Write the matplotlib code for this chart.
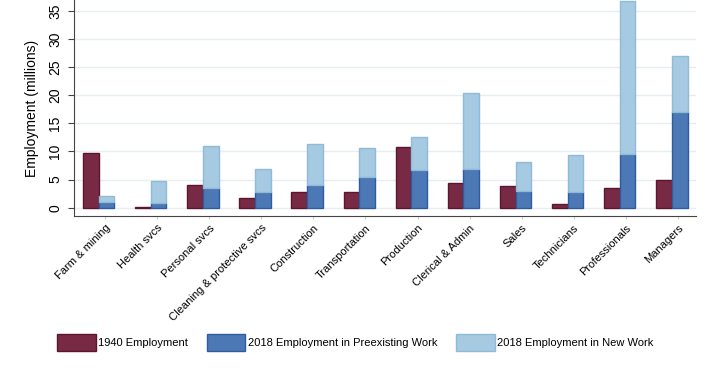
import matplotlib
matplotlib.use("Agg")
import matplotlib.pyplot as plt
import numpy as np

plt.rcParams['font.family'] = ['Liberation Sans', 'DejaVu Sans']

# occupation groups, values in millions
categories = ['Farm & mining', 'Health svcs', 'Personal svcs',
              'Cleaning & protective svcs', 'Construction', 'Transportation',
              'Production', 'Clerical & Admin', 'Sales', 'Technicians',
              'Professionals', 'Managers']
emp_1940 = [9.8, 0.15, 4.0, 1.7, 2.8, 2.8, 10.8, 4.4, 3.9, 0.65, 3.45, 4.95]
emp_2018_preexisting = [1.0, 0.9, 3.45, 2.7, 4.0, 5.5, 6.7, 6.95, 2.9, 2.7, 9.5, 17.0]
emp_2018_new = [1.0, 3.8, 7.55, 4.1, 7.3, 5.1, 5.9, 13.4, 5.2, 6.6, 27.2, 9.9]

c_1940, e_1940 = '#782A45', '#5C1530'
c_pre, e_pre = '#4C78B5', '#2F5C9E'
c_new, e_new = '#A5CAE1', '#8FBAD8'

fig = plt.figure(figsize=(7.13, 3.73), dpi=100)
ax = fig.add_axes([0.104, 0.421, 0.872, 0.579])

x = np.arange(len(categories))
w = 0.3
ax.bar(x - w / 2, emp_1940, w, color=c_1940, edgecolor=e_1940, linewidth=1,
       label='1940 Employment', zorder=3)
ax.bar(x + w / 2, emp_2018_preexisting, w, color=c_pre, edgecolor=e_pre,
       linewidth=1, label='2018 Employment in Preexisting Work', zorder=3)
ax.bar(x + w / 2, emp_2018_new, w, bottom=emp_2018_preexisting, color=c_new,
       edgecolor=e_new, linewidth=1, label='2018 Employment in New Work',
       zorder=3)

ax.set_xlim(-0.47, len(categories) - 0.54)
ax.set_ylim(-1.48, 36.95)
ax.set_yticks(range(0, 36, 5))
ax.tick_params(axis='y', labelsize=10, rotation=90, length=4.5, pad=4,
               color='#444444')
for lab in ax.get_yticklabels():
    lab.set_va('center')
ax.set_xticks(x + 0.12)
ax.set_xticklabels(categories, rotation=45, ha='right', rotation_mode='anchor',
                   fontsize=8)
ax.tick_params(axis='x', length=2, color='#cccccc', pad=3)

ax.grid(axis='y', color='#E6EEF0', linewidth=1, zorder=0)
ax.set_ylabel('Employment (millions)', fontsize=10, labelpad=7)
for s in ['top', 'right']:
    ax.spines[s].set_visible(False)
ax.spines['left'].set_color('#444444')
ax.spines['bottom'].set_color('#444444')

handles, labels = ax.get_legend_handles_labels()
fig.legend(handles, labels, loc='center', bbox_to_anchor=(0.498, 0.082),
           ncol=3, frameon=False, fontsize=8, handlelength=3.5,
           handleheight=2.0, handletextpad=0.2, columnspacing=1.7)

fig.savefig('out.png', dpi=100)
